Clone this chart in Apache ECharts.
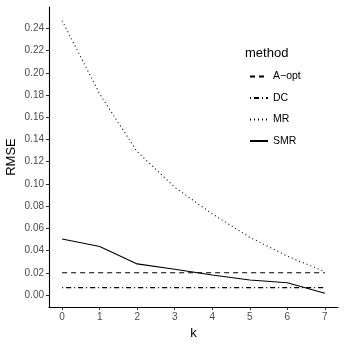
<!DOCTYPE html>
<html>
<head>
<meta charset="utf-8">
<script src="https://cdn.jsdelivr.net/npm/echarts@6/dist/echarts.min.js"></script>
<style>
  html, body { margin: 0; padding: 0; background: #fff; }
  #chart { width: 346px; height: 346px; }
</style>
</head>
<body>
<div id="chart"></div>
<script>
const kValues = [0, 1, 2, 3, 4, 5, 6, 7]
const aOpt = [0.020, 0.020, 0.020, 0.020, 0.020, 0.020, 0.020, 0.020]
const dc = [0.0066, 0.0066, 0.0066, 0.0066, 0.0066, 0.0066, 0.0066, 0.0066]
const mr = [0.247, 0.181, 0.129, 0.097, 0.073, 0.052, 0.035, 0.021]
const smr = [0.0505, 0.0436, 0.028, 0.0232, 0.018, 0.0135, 0.011, 0.0015]
const yTicks = [0, 0.02, 0.04, 0.06, 0.08, 0.10, 0.12, 0.14, 0.16, 0.18, 0.20, 0.22, 0.24]

const font = 'Liberation Sans, Arial, sans-serif'
const pairs = arr => kValues.map((k, i) => [k, arr[i]])

const chart = echarts.init(document.getElementById('chart'))

function lineSeries(name, data, type) {
  return {
    name: name,
    type: 'line',
    data: pairs(data),
    symbol: 'none',
    animation: false,
    lineStyle: { color: '#000', width: 1.1, type: type },
    itemStyle: { color: '#000' }
  }
}

chart.setOption({
  backgroundColor: '#fff',
  title: {
    text: 'method',
    left: 240,
    top: 42,
    textStyle: { fontFamily: font, fontSize: 13, fontWeight: 'normal', color: '#000' }
  },
  legend: {
    show: true,
    orient: 'vertical',
    left: 244,
    top: 66,
    itemWidth: 18,
    itemHeight: 10,
    itemGap: 10.5,
    itemStyle: { opacity: 0 },
    textStyle: { fontFamily: font, fontSize: 10.5, color: '#000' }
  },
  grid: { left: 49, right: 8, top: 7, bottom: 39, outerBoundsMode: 'none' },
  xAxis: {
    type: 'value',
    min: -0.35,
    max: 7.35,
    name: 'k',
    nameLocation: 'middle',
    nameGap: 20,
    nameTextStyle: { fontFamily: font, fontSize: 13, color: '#000' },
    splitLine: { show: false },
    axisLine: { show: true, onZero: false, lineStyle: { color: '#000', width: 1.1 } },
    axisTick: { show: true, length: 3, customValues: kValues, lineStyle: { color: '#333' } },
    axisLabel: { customValues: kValues, fontFamily: font, fontSize: 10, color: '#4d4d4d', margin: 5 }
  },
  yAxis: {
    type: 'value',
    min: -0.0108,
    max: 0.2593,
    name: 'RMSE',
    nameLocation: 'middle',
    nameGap: 31,
    nameMoveOverlap: false,
    nameTextStyle: { fontFamily: font, fontSize: 13, color: '#000' },
    splitLine: { show: false },
    axisLine: { show: true, onZero: false, lineStyle: { color: '#000', width: 1.1 } },
    axisTick: { show: true, length: 3, customValues: yTicks, lineStyle: { color: '#333' } },
    axisLabel: {
      customValues: yTicks,
      fontFamily: font, fontSize: 10, color: '#4d4d4d', margin: 5,
      formatter: v => v.toFixed(2)
    }
  },
  series: [
    lineSeries('A\u2212opt', aOpt, [5, 4]),
    lineSeries('DC', dc, [1, 3, 5, 3]),
    lineSeries('MR', mr, [1, 3]),
    lineSeries('SMR', smr, 'solid')
  ]
})
</script>
</body>
</html>
